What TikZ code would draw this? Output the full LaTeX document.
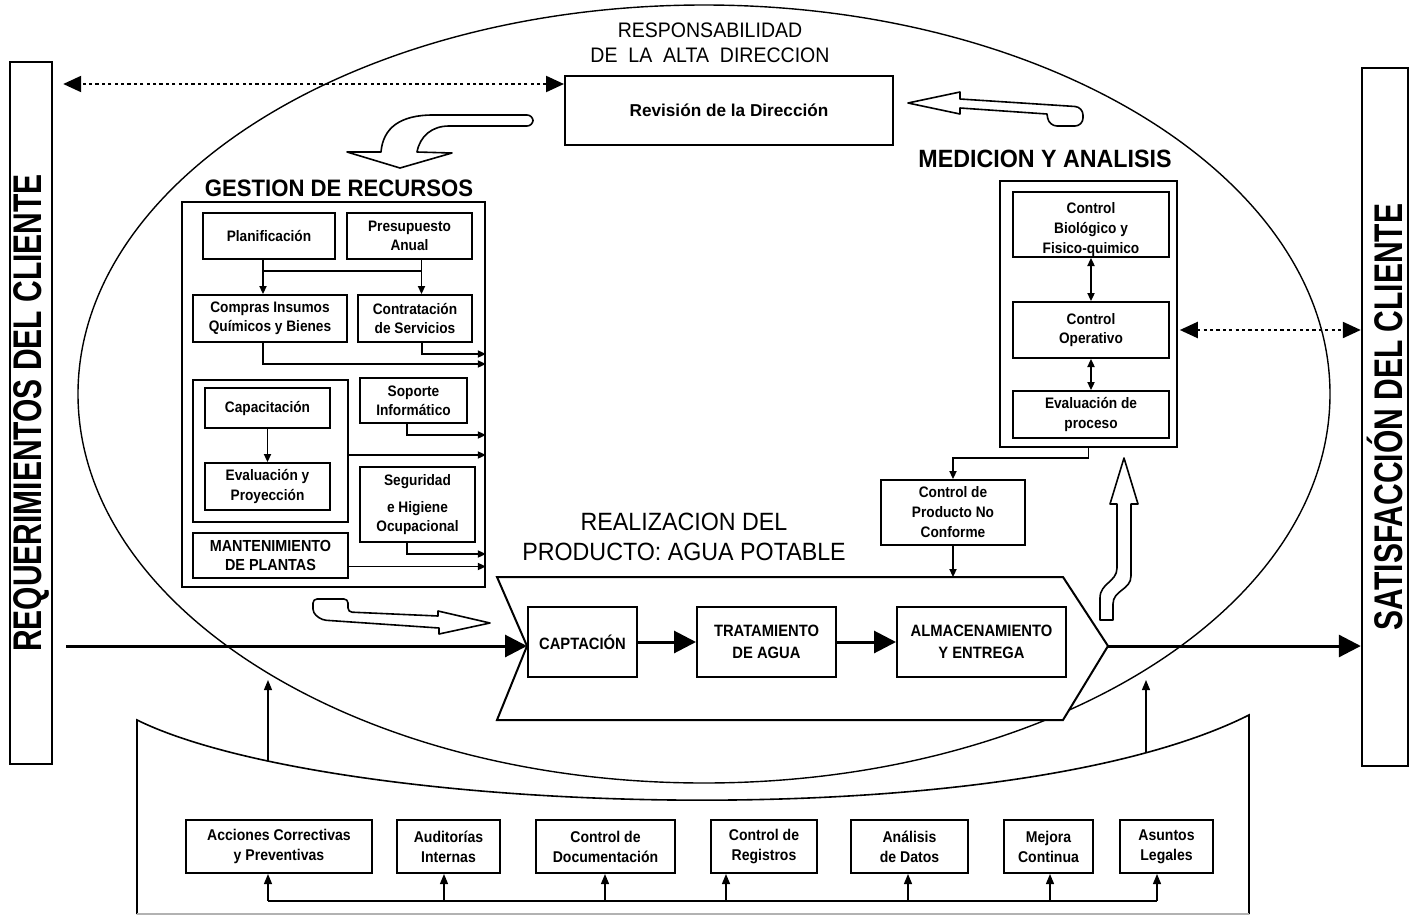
\documentclass[tikz,border=0pt]{standalone}
\usepackage{fontspec}
\setmainfont{Liberation Sans}
\newfontfamily\cnd[FakeStretch=0.9]{Liberation Sans}
\newfontfamily\cndt[FakeStretch=0.93]{Liberation Sans}
\newfontfamily\cndv[FakeStretch=0.75]{Liberation Sans}
\usetikzlibrary{arrows.meta,calc}

\tikzset{
  % place a rectangle by its two corners x1/y1/x2/y2
  spot/.style args={#1/#2/#3/#4}{at={({(#1+#3)/2},{(#2+#4)/2})},
              minimum width={(#3-#1)*0.5pt}, minimum height={(#4-#2)*0.5pt}},
  box/.style={draw, line width=1pt, inner sep=0pt, align=center,
              font=\cnd\bfseries\fontsize{7.6}{9.6}\selectfont},
  bigbox/.style={box, font=\cnd\bfseries\fontsize{8.2}{11}\selectfont},
  frame/.style={draw, line width=0.8pt, inner sep=0pt},
  bar/.style={draw, line width=1.2pt, inner sep=0pt,
              font=\cndv\bfseries\fontsize{20}{20}\selectfont},
  title/.style={inner sep=0pt, font=\cndt\bfseries\fontsize{12}{14}\selectfont},
  plaintitle/.style={inner sep=0pt, align=center,
              font=\cndt\fontsize{12.5}{15}\selectfont},
  link/.style={line width=0.7pt, -{Triangle[length=4pt,width=3.6pt]}},
  dlink/.style={line width=0.8pt,
              {Triangle[length=4pt,width=3.6pt]}-{Triangle[length=4pt,width=3.6pt]}},
  flow/.style={line width=1.5pt, -{Triangle[length=11pt,width=11pt]}},
  dotlink/.style={line width=1.1pt, dash pattern=on 1.6pt off 1.6pt,
              {Triangle[length=9pt,width=8pt]}-{Triangle[length=9pt,width=8pt]}},
  hollow/.style={draw, line width=0.8pt, fill=white, line join=round},
  uplink/.style={line width=0.6pt, -{Triangle[length=5pt,width=4pt]}},
  sbox/.style={box, font=\cnd\bfseries\fontsize{7.8}{10}\selectfont},
}

\begin{document}
\begin{tikzpicture}[x=0.5pt,y=-0.5pt]
\useasboundingbox (0,0) rectangle (1415,916);

% quality system ellipse
\draw[line width=0.7pt] (704,394) ellipse [x radius=626, y radius=389];

% customer bars
\node[bar, minimum width=21pt, minimum height=351pt] (req) at (31,413)
  {\rotatebox{90}{REQUERIMIENTOS DEL CLIENTE}};
\node[bar, minimum width=23pt, minimum height=349pt] (sat) at (1385,417)
  {\rotatebox{90}{SATISFACCIÓN DEL CLIENTE}};

% management responsibility
\node[inner sep=0pt, font=\cndt\fontsize{10.5}{12}\selectfont] (resp1) at (710,30) {RESPONSABILIDAD};
\node[inner sep=0pt, font=\cndt\fontsize{10.5}{12}\selectfont] (resp2) at (710,55) {DE\ \ LA\ \ ALTA\ \ DIRECCION};
\node[box, font=\bfseries\fontsize{8.6}{10}\selectfont, spot=565/76/893/145] (rev) {Revisión de la Dirección};

\coordinate (dtop) at ([yshift=-4.5pt]rev.north west);
\draw[dotlink, shorten >=5pt] (dtop) -- (req.east |- dtop);

% hollow arrow: review -> resources
\draw[hollow] (470,115) [rounded corners=3pt] -- (533,115) -- (533,126) -- (455,126) [sharp corners]
  .. controls (432,126) and (420,136) .. (417,152) -- (452,153) -- (400,168) -- (347,152) -- (381,152)
  .. controls (383,128) and (400,115) .. (433,115) -- cycle;

% hollow arrow: measurement -> review
\draw[hollow] (908,103) -- (960,92) -- (960,99) [rounded corners=4pt] -- (1083,107) -- (1083,126)
  -- (1049,126) [sharp corners] -- (1047,114) -- (960,108) -- (960,114) -- cycle;

% measurement and analysis
\node[title, font=\cndt\bfseries\fontsize{12.5}{14}\selectfont] (medt) at (1045,159) {MEDICION Y ANALISIS};
\node[frame, spot=1000/181/1177/447] (med) {};
\node[box, spot=1013/192/1169/257] (cb) {};
\node[inner sep=0pt, align=center, font=\cnd\bfseries\fontsize{7.6}{10}\selectfont] (cbt) at (1091,230)
  {Control\\Biológico y\\Fisico-quimico};
\node[box, spot=1013/302/1169/358] (op) {Control\\Operativo};
\node[box, spot=1013/391/1169/438] (ev) {Evaluación de\\proceso};
\draw[dlink] (cb) -- (op);
\draw[dlink] (op) -- (ev);
\draw[dotlink, shorten <=1pt] (med.east |- op) -- (sat.west |- op);

\node[box, font=\cnd\bfseries\fontsize{7.6}{10}\selectfont, spot=881/480/1025/545] (cnc)
  {Control de\\Producto No\\Conforme};
\draw[link] (med.south) -- ++(0,10) -| (cnc.north);

% product realization
\node[plaintitle] (realt) at (684,537) {REALIZACION DEL\\PRODUCTO: AGUA POTABLE};
\coordinate (cTL) at (497,577);
\coordinate (cTR) at (1063,577);
\coordinate (cT) at (1108,646);
\coordinate (cBR) at (1063,720);
\coordinate (cBL) at (497,720);
\coordinate (cN) at (527,646);
\draw[line width=1pt, fill=white] (cTL) -- (cTR) -- (cT) -- (cBR) -- (cBL) -- (cN) -- cycle;
\draw[link] (cnc.south) -- (cnc.south |- cTL);

\node[bigbox, spot=528/607/637/677] (capt) {CAPTACIÓN};
\node[bigbox, spot=697/607/836/677] (trat) {TRATAMIENTO\\DE AGUA};
\node[bigbox, spot=897/607/1066/677] (alm) {ALMACENAMIENTO\\Y ENTREGA};
\draw[flow] (capt) -- (trat);
\draw[flow] (trat) -- (alm);
\draw[flow, shorten <=6.5pt] (req.east |- cN) -- (cN);
\draw[flow] (cT) -- (sat.west |- cT);

% hollow arrow: realization -> measurement
\draw[hollow] (1124,458) -- (1138,504) -- (1131,504) -- (1131,576)
  .. controls (1131,590) and (1113,590) .. (1113,604) -- (1113,620) -- (1100,620) -- (1100,598)
  .. controls (1100,583) and (1117,582) .. (1117,568) -- (1117,504) -- (1110,504) -- cycle;

% resource management
\node[title, font=\cndt\bfseries\fontsize{11.9}{14}\selectfont] (gest) at (339,188) {GESTION DE RECURSOS};
\node[frame, spot=182/202/485/587] (ges) {};
\node[box, spot=203/213/335/259] (plan) {Planificación};
\node[box, spot=347/213/472/259] (pres) {Presupuesto\\Anual};
\node[box, spot=193/295/347/342] (comp) {Compras Insumos\\Químicos y Bienes};
\node[box, spot=358/295/472/342] (cont) {Contratación\\de Servicios};
\node[box, spot=193/380/348/522] (capg) {};
\node[box, spot=205/388/330/428] (capa) {Capacitación};
\node[box, spot=205/463/330/510] (eval) {Evaluación y\\Proyección};
\node[box, spot=360/378/467/423] (sop) {Soporte\\Informático};
\node[box, spot=360/467/475/542] (seg) {Seguridad\\[4pt]e Higiene\\Ocupacional};
\node[box, font=\cnd\bfseries\fontsize{8}{9.5}\selectfont, spot=193/533/348/578] (mant) {MANTENIMIENTO\\DE PLANTAS};

\coordinate (pl) at ([xshift=-3pt]plan.south);
\coordinate (pr) at ([xshift=6pt]pres.south);
\draw[link] (pl) -- (pl |- comp.north);
\draw[link] (pr) -- (pr |- cont.north);
\draw[line width=0.7pt] ($(pl)+(0,11)$) -- ($(pr)+(0,11)$);
\draw[link] (capa) -- (eval);

\coordinate (co) at ([xshift=3.5pt]cont.south);
\draw[link] (co) -- ++(0,11) coordinate (co2) -- (co2 -| ges.east);
\coordinate (cm) at ([xshift=-3.5pt]comp.south);
\draw[link] (cm) -- ++(0,21) coordinate (cm2) -- (cm2 -| ges.east);
\coordinate (so) at ([xshift=-3.25pt]sop.south);
\draw[link] (so) -- ++(0,11) coordinate (so2) -- (so2 -| ges.east);
\coordinate (cg) at ([yshift=-2pt]capg.east);
\draw[link] (cg) -- (cg -| ges.east);
\coordinate (sg) at ([xshift=-5.25pt]seg.south);
\draw[link] (sg) -- ++(0,11) coordinate (sg2) -- (sg2 -| ges.east);
\coordinate (mt) at ([yshift=-5.5pt]mant.east);
\draw[link] (mt) -- (mt -| ges.east);

% hollow arrow: resources -> realization
\draw[hollow] (313,599) [rounded corners=2pt] -- (348,599) -- (348,612) [sharp corners] -- (438,616)
  -- (438,611) -- (490,623) -- (439,634) -- (439,628) [rounded corners=2pt] -- (322,620) -- (313,613) -- cycle;

% support processes base
\draw[line width=0.8pt] (137,914) -- (137,720) .. controls (330,815) and (1000,840) .. (1249,715) -- (1249,914);
\draw[gray!60, line width=0.8pt] (137,914) -- (1249,914);
\coordinate (b1) at (268,761);
\coordinate (b2) at (1146,753);
\coordinate (t1) at (268,680);
\coordinate (t2) at (1146,680);
\draw[uplink] (b1) -- (t1);
\draw[uplink] (b2) -- (t2);

\node[sbox, spot=186/820/372/873] (acc) {Acciones Correctivas\\y Preventivas};
\node[sbox, spot=397/820/500/873] (aud) {Auditorías\\Internas};
\node[sbox, spot=536/820/675/873] (cdoc) {Control de\\Documentación};
\node[sbox, spot=711/820/817/873] (creg) {Control de\\Registros};
\node[sbox, spot=851/820/968/873] (adat) {Análisis\\de Datos};
\node[sbox, spot=1004/820/1093/873] (mej) {Mejora\\Continua};
\node[sbox, spot=1120/820/1213/873] (asu) {Asuntos\\Legales};

\coordinate (u1) at (268,901);
\coordinate (u2) at (444,901);
\coordinate (u3) at (605,901);
\coordinate (u4) at (726,901);
\coordinate (u5) at (908,901);
\coordinate (u6) at (1050,901);
\coordinate (u7) at (1157,901);
\draw[line width=0.8pt] (u1) -- (u7);
\foreach \u/\b in {u1/acc, u2/aud, u3/cdoc, u4/creg, u5/adat, u6/mej, u7/asu}
  \draw[uplink] (\u) -- (\u |- \b.south);

\end{tikzpicture}
\end{document}
